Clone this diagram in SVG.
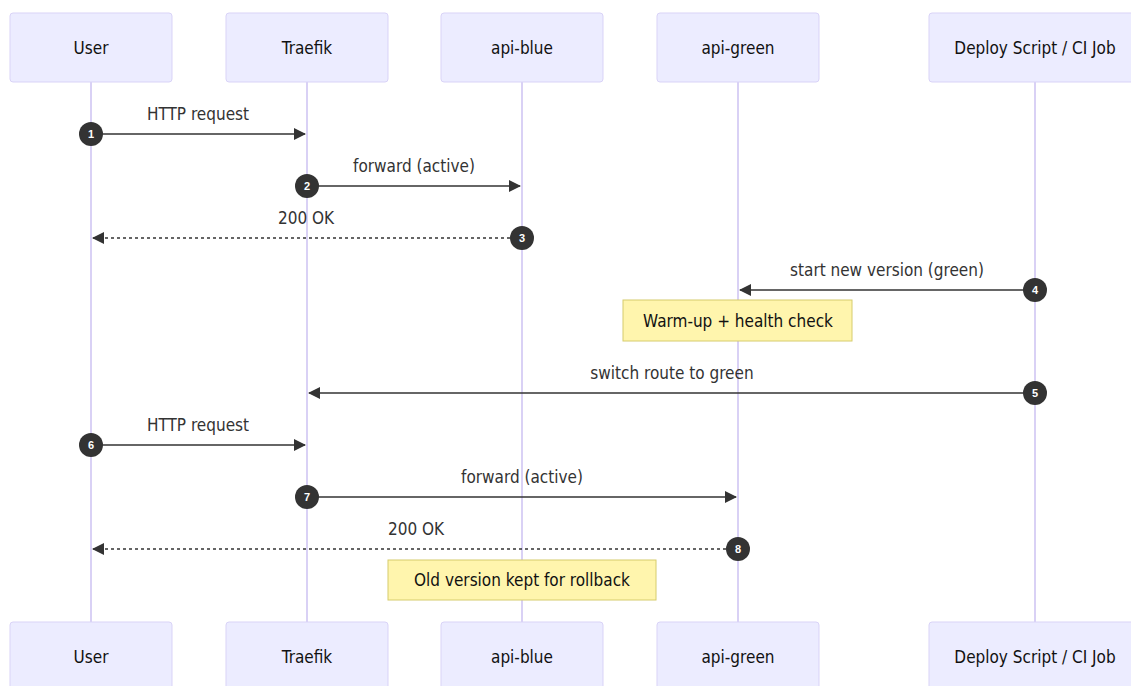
<svg xmlns="http://www.w3.org/2000/svg" width="1131" height="686" viewBox="0 0 1131 686">
<style>
.actor{fill:#ececff;stroke:#d9d3f7;stroke-width:1}
.life{stroke:#d9d1f5;stroke-width:2}
.t,.at,.ntx{font-family:"DejaVu Sans Condensed","DejaVu Sans",sans-serif;font-stretch:condensed;font-size:17px;text-anchor:middle}
.t{fill:#333}
.at{fill:#111;dominant-baseline:central}
.msg{stroke:#333;stroke-width:1.6;fill:none}
.dash{stroke-dasharray:3,3}
.num{fill:#333}
.nt{font-family:"Liberation Sans",Arial,sans-serif;font-size:11px;font-weight:bold;fill:#fff;text-anchor:middle;dominant-baseline:central}
.note{fill:#fff5ad;stroke:#d6cc6c;stroke-width:1}
.ntx{fill:#111;dominant-baseline:central}
</style>
<defs>
<marker id="ah" markerWidth="12" markerHeight="12" refX="11" refY="6" orient="auto" markerUnits="userSpaceOnUse">
<path d="M0,0 L12,6 L0,12 z" fill="#333"/>
</marker>
</defs>
<rect width="1131" height="686" fill="#fff"/>
<g id="lifelines">
<line class="life" x1="91" y1="82" x2="91" y2="622"/>
<line class="life" x1="307" y1="82" x2="307" y2="622"/>
<line class="life" x1="522" y1="82" x2="522" y2="622"/>
<line class="life" x1="738" y1="82" x2="738" y2="622"/>
<line class="life" x1="1035" y1="82" x2="1035" y2="622"/>
</g>
<g id="actor-user">
<rect class="actor" x="10" y="13" width="162" height="69" rx="3"/>
<text class="at" x="91" y="48">User</text>
<rect class="actor" x="10" y="622" width="162" height="69" rx="3"/>
<text class="at" x="91" y="657">User</text>
</g>
<g id="actor-traefik">
<rect class="actor" x="226" y="13" width="162" height="69" rx="3"/>
<text class="at" x="307" y="48">Traefik</text>
<rect class="actor" x="226" y="622" width="162" height="69" rx="3"/>
<text class="at" x="307" y="657">Traefik</text>
</g>
<g id="actor-api-blue">
<rect class="actor" x="441" y="13" width="162" height="69" rx="3"/>
<text class="at" x="522" y="48">api-blue</text>
<rect class="actor" x="441" y="622" width="162" height="69" rx="3"/>
<text class="at" x="522" y="657">api-blue</text>
</g>
<g id="actor-api-green">
<rect class="actor" x="657" y="13" width="162" height="69" rx="3"/>
<text class="at" x="738" y="48">api-green</text>
<rect class="actor" x="657" y="622" width="162" height="69" rx="3"/>
<text class="at" x="738" y="657">api-green</text>
</g>
<g id="actor-deploy">
<rect class="actor" x="929" y="13" width="212" height="69" rx="3"/>
<text class="at" x="1035" y="48">Deploy Script / CI Job</text>
<rect class="actor" x="929" y="622" width="212" height="69" rx="3"/>
<text class="at" x="1035" y="657">Deploy Script / CI Job</text>
</g>
<g id="note-warmup">
<rect class="note" x="623" y="300" width="229" height="41"/>
<text class="ntx" x="738" y="321">Warm-up + health check</text>
</g>
<g id="note-rollback">
<rect class="note" x="388" y="560" width="268" height="40"/>
<text class="ntx" x="522" y="580">Old version kept for rollback</text>
</g>
<g id="connectors">
<line class="msg" x1="91" y1="134" x2="305" y2="134" marker-end="url(#ah)"/>
<text class="t" x="198" y="120">HTTP request</text>
<line class="msg" x1="307" y1="186" x2="520" y2="186" marker-end="url(#ah)"/>
<text class="t" x="414" y="172">forward (active)</text>
<line class="msg dash" x1="522" y1="238" x2="93" y2="238" marker-end="url(#ah)"/>
<text class="t" x="306" y="224">200 OK</text>
<line class="msg" x1="1035" y1="290" x2="740" y2="290" marker-end="url(#ah)"/>
<text class="t" x="887" y="276">start new version (green)</text>
<line class="msg" x1="1035" y1="393" x2="309" y2="393" marker-end="url(#ah)"/>
<text class="t" x="672" y="379">switch route to green</text>
<line class="msg" x1="91" y1="445" x2="305" y2="445" marker-end="url(#ah)"/>
<text class="t" x="198" y="431">HTTP request</text>
<line class="msg" x1="307" y1="497" x2="736" y2="497" marker-end="url(#ah)"/>
<text class="t" x="522" y="483">forward (active)</text>
<line class="msg dash" x1="738" y1="549" x2="93" y2="549" marker-end="url(#ah)"/>
<text class="t" x="416" y="535">200 OK</text>
<circle class="num" cx="91" cy="134" r="12"/><text class="nt" x="91" y="134">1</text>
<circle class="num" cx="307" cy="186" r="12"/><text class="nt" x="307" y="186">2</text>
<circle class="num" cx="522" cy="238" r="12"/><text class="nt" x="522" y="238">3</text>
<circle class="num" cx="1035" cy="290" r="12"/><text class="nt" x="1035" y="290">4</text>
<circle class="num" cx="1035" cy="393" r="12"/><text class="nt" x="1035" y="393">5</text>
<circle class="num" cx="91" cy="445" r="12"/><text class="nt" x="91" y="445">6</text>
<circle class="num" cx="307" cy="497" r="12"/><text class="nt" x="307" y="497">7</text>
<circle class="num" cx="738" cy="549" r="12"/><text class="nt" x="738" y="549">8</text>
</g>
</svg>
